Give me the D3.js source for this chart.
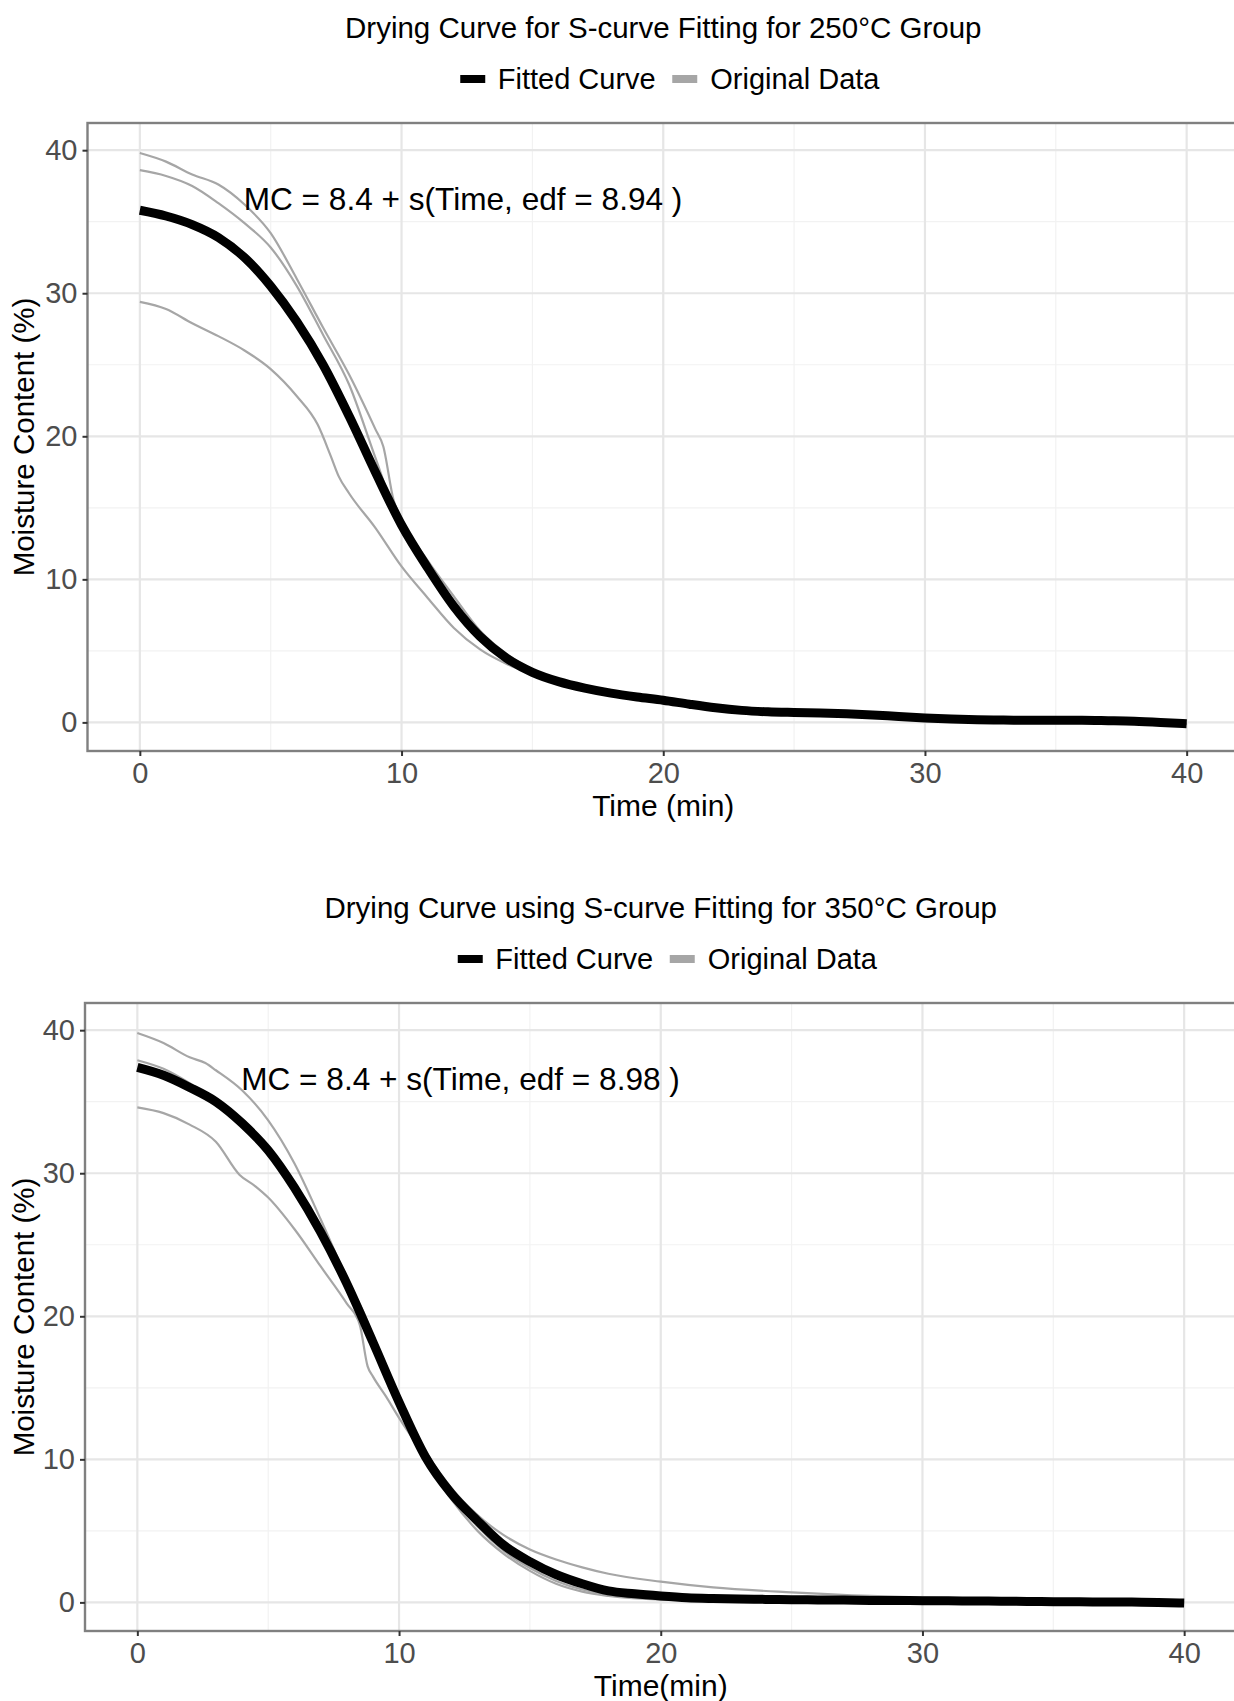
<!DOCTYPE html>
<html>
<head>
<meta charset="utf-8">
<script src="https://cdn.jsdelivr.net/npm/d3@7"></script>
<style>
  body { margin: 0; background: #fff; }
  svg text { font-family: "Liberation Sans", Arial, Helvetica, sans-serif; }
</style>
</head>
<body>
<svg id="chart" width="1234" height="1701"></svg>
<script>
/* Datos */
const xTicks = [0, 10, 20, 30, 40];
const yTicks = [0, 10, 20, 30, 40];
const xMinor = [5, 15, 25, 35];
const yMinor = [5, 15, 25, 35];
const legendLabels = ["Fitted Curve", "Original Data"];

// 250°C
const fit250Time = d3.range(0, 41);
const fit250MC = [35.8, 35.4, 34.8, 33.9, 32.5, 30.5, 28.0, 25.0, 21.4, 17.5, 13.8, 10.8, 8.1, 6.0, 4.5, 3.5, 2.85, 2.4, 2.05, 1.78,
  1.55, 1.27, 1.02, 0.84, 0.74, 0.69, 0.65, 0.6, 0.52, 0.41, 0.31, 0.23, 0.18, 0.16, 0.15, 0.15, 0.15, 0.12, 0.08, 0.0, -0.1];
const orig250aTime = [0, 1, 2, 3, 4, 5, 6, 7, 8, 9, 9.3, 9.7, 10, 11, 12, 13, 14, 15, 16, 17, 18, 20, 25, 30, 35, 40];
const orig250aMC = [39.8, 39.2, 38.3, 37.6, 36.2, 34.2, 31.0, 27.6, 24.3, 20.5, 19.3, 15.5, 14.2, 11.3, 8.8, 6.4, 4.8, 3.7, 2.9, 2.4, 2.05, 1.5, 0.65, 0.3, 0.15, -0.1];
const orig250bTime = [0, 1, 2, 3, 4, 5, 6, 7, 8, 9, 9.7, 10, 11, 12, 13, 14, 15, 16, 17, 18, 20, 25, 30, 35, 40];
const orig250bMC = [38.6, 38.2, 37.5, 36.3, 34.9, 33.2, 30.5, 27.1, 23.6, 18.5, 15.0, 14.0, 11.0, 8.5, 6.2, 4.6, 3.6, 2.9, 2.4, 2.05, 1.5, 0.65, 0.3, 0.15, -0.1];
const orig250cTime = [0, 1, 2, 3, 4, 5, 6, 6.8, 7.3, 7.6, 8, 9, 10, 11, 12, 13, 14, 15, 16, 17, 18, 20, 25, 30, 35, 40];
const orig250cMC = [29.4, 28.9, 27.9, 27.0, 26.0, 24.7, 22.8, 20.8, 18.6, 17.2, 16.0, 13.6, 10.9, 8.7, 6.6, 5.1, 4.1, 3.4, 2.8, 2.35, 2.0, 1.5, 0.65, 0.3, 0.15, -0.1];

// 350°C
const fit350Time = d3.range(0, 41);
const fit350MC = [37.4, 36.85, 36.0, 35.0, 33.5, 31.6, 29.0, 25.9, 22.3, 18.2, 14.0, 10.2, 7.6, 5.7, 4.0, 2.85, 1.95, 1.3, 0.8, 0.6,
  0.45, 0.33, 0.27, 0.23, 0.21, 0.19, 0.17, 0.16, 0.14, 0.13, 0.12, 0.11, 0.1, 0.08, 0.07, 0.05, 0.04, 0.03, 0.02, 0.0, -0.05];
const orig350aTime = [0, 1, 2, 2.6, 3, 4, 5, 6, 7, 8, 9, 10, 11, 12, 13, 14, 15, 16, 17, 18, 20, 22, 25, 28, 30, 33, 35, 40];
const orig350aMC = [39.8, 39.1, 38.1, 37.7, 37.2, 35.8, 33.7, 30.7, 26.8, 22.6, 18.3, 14.1, 10.6, 8.0, 6.1, 4.7, 3.7, 3.0, 2.45, 2.0, 1.45, 1.05, 0.7, 0.45, 0.35, 0.22, 0.15, 0.0];
const orig350bTime = [0, 1, 2, 3, 4, 5, 6, 7, 8, 8.8, 9.2, 10, 11, 12, 13, 14, 15, 16, 17, 18, 20, 25, 30, 40];
const orig350bMC = [37.9, 37.3, 36.3, 35.1, 33.6, 31.7, 29.1, 26.0, 22.5, 19.6, 17.4, 13.6, 10.0, 7.2, 5.0, 3.4, 2.2, 1.3, 0.75, 0.45, 0.2, 0.1, 0.08, 0.0];
const orig350cTime = [0, 1, 2, 3, 3.9, 4.5, 5, 6, 7, 8, 8.5, 8.8, 9, 9.5, 10, 11, 12, 13, 14, 15, 16, 17, 18, 20, 25, 30, 40];
const orig350cMC = [34.6, 34.2, 33.4, 32.2, 29.9, 29.1, 28.3, 26.1, 23.5, 20.9, 19.4, 16.5, 15.8, 14.4, 12.9, 10.2, 7.5, 5.3, 3.6, 2.4, 1.5, 0.9, 0.55, 0.3, 0.15, 0.1, 0.0];

const charts = [
  {
    id: "p250", left: 87.5, top: 123,
    title: "Drying Curve for S-curve Fitting for 250°C Group",
    xTitle: "Time (min)",
    annot: "MC = 8.4 + s(Time, edf = 8.94 )",
    fit: [fit250Time, fit250MC],
    orig: [[orig250aTime, orig250aMC], [orig250bTime, orig250bMC], [orig250cTime, orig250cMC]]
  },
  {
    id: "p350", left: 85, top: 1003,
    title: "Drying Curve using S-curve Fitting for 350°C Group",
    xTitle: "Time(min)",
    annot: "MC = 8.4 + s(Time, edf = 8.98 )",
    fit: [fit350Time, fit350MC],
    orig: [[orig350aTime, orig350aMC], [orig350bTime, orig350bMC], [orig350cTime, orig350cMC]]
  }
];

const PW = 1151.5, PH = 628;
const BLACK = "#000000", GREY = "#a6a6a6";

const svg = d3.select("#chart");

function drawChart(c) {
  const x = d3.scaleLinear().domain([-2, 42]).range([c.left, c.left + PW]);
  const y = d3.scaleLinear().domain([-2, 41.9]).range([c.top + PH, c.top]);
  const cx = c.left + PW / 2;
  const g = svg.append("g");

  // titulo
  g.append("text").attr("x", cx).attr("y", c.top - 85)
    .attr("text-anchor", "middle").attr("font-size", 29.5).attr("fill", "#000")
    .text(c.title);

  // leyenda
  const ly = c.top - 44;
  const keys = [[cx - 203, cx - 165.5, BLACK], [cx + 9, cx + 47, GREY]];
  keys.forEach(([kx, tx, col], i) => {
    g.append("line").attr("x1", kx).attr("x2", kx + 25).attr("y1", ly).attr("y2", ly)
      .attr("stroke", col).attr("stroke-width", 8);
    g.append("text").attr("x", tx).attr("y", ly).attr("dy", "0.35em")
      .attr("font-size", 29).attr("fill", "#000").text(legendLabels[i]);
  });

  // grilla
  const grid = g.append("g");
  grid.selectAll(".vmin").data(xMinor).join("line")
    .attr("x1", d => x(d)).attr("x2", d => x(d)).attr("y1", c.top).attr("y2", c.top + PH)
    .attr("stroke", "#f2f2f2").attr("stroke-width", 1.2);
  grid.selectAll(".hmin").data(yMinor).join("line")
    .attr("y1", d => y(d)).attr("y2", d => y(d)).attr("x1", c.left).attr("x2", c.left + PW)
    .attr("stroke", "#f2f2f2").attr("stroke-width", 1.2);
  grid.selectAll(".vmaj").data(xTicks).join("line")
    .attr("x1", d => x(d)).attr("x2", d => x(d)).attr("y1", c.top).attr("y2", c.top + PH)
    .attr("stroke", "#e6e6e6").attr("stroke-width", 2.2);
  grid.selectAll(".hmaj").data(yTicks).join("line")
    .attr("y1", d => y(d)).attr("y2", d => y(d)).attr("x1", c.left).attr("x2", c.left + PW)
    .attr("stroke", "#e6e6e6").attr("stroke-width", 2.2);

  // curvas
  const clipId = "clip-" + c.id;
  svg.append("clipPath").attr("id", clipId).append("rect")
    .attr("x", c.left).attr("y", c.top).attr("width", PW).attr("height", PH);
  const line = d3.line().x(d => x(d[0])).y(d => y(d[1])).curve(d3.curveMonotoneX);
  const lines = g.append("g").attr("clip-path", `url(#${clipId})`);
  c.orig.forEach(([t, v]) => {
    lines.append("path").datum(t.map((d, i) => [d, v[i]]))
      .attr("d", line).attr("fill", "none").attr("stroke", GREY).attr("stroke-width", 2.2);
  });
  lines.append("path").datum(c.fit[0].map((d, i) => [d, c.fit[1][i]]))
    .attr("d", line).attr("fill", "none").attr("stroke", BLACK).attr("stroke-width", 9)
    .attr("stroke-linecap", "butt");

  // anotacion
  g.append("text").attr("x", x(12.35)).attr("y", y(36.6)).attr("dy", "0.35em")
    .attr("text-anchor", "middle").attr("font-size", 31.6).attr("fill", "#000")
    .text(c.annot);

  // borde del panel
  g.append("rect").attr("x", c.left).attr("y", c.top).attr("width", PW).attr("height", PH)
    .attr("fill", "none").attr("stroke", "#808080").attr("stroke-width", 2.4);

  // ejes
  const ax = g.append("g").attr("transform", `translate(0,${c.top + PH})`)
    .call(d3.axisBottom(x).tickValues(xTicks).tickSize(5).tickPadding(6));
  const ay = g.append("g").attr("transform", `translate(${c.left},0)`)
    .call(d3.axisLeft(y).tickValues(yTicks).tickSize(5).tickPadding(5));
  [ax, ay].forEach(a => {
    a.select(".domain").remove();
    a.selectAll(".tick line").attr("stroke", "#333").attr("stroke-width", 2);
    a.selectAll(".tick text").attr("font-size", 29).attr("fill", "#4d4d4d")
      .attr("font-family", "Liberation Sans, Arial, sans-serif");
  });

  // titulos de ejes
  g.append("text").attr("x", cx).attr("y", c.top + PH + 65)
    .attr("text-anchor", "middle").attr("font-size", 30).attr("fill", "#000")
    .text(c.xTitle);
  g.append("text")
    .attr("transform", `translate(24,${c.top + PH / 2}) rotate(-90)`)
    .attr("text-anchor", "middle").attr("dy", "0.35em")
    .attr("font-size", 29.5).attr("fill", "#000")
    .text("Moisture Content (%)");
}

charts.forEach(drawChart);
</script>
</body>
</html>
